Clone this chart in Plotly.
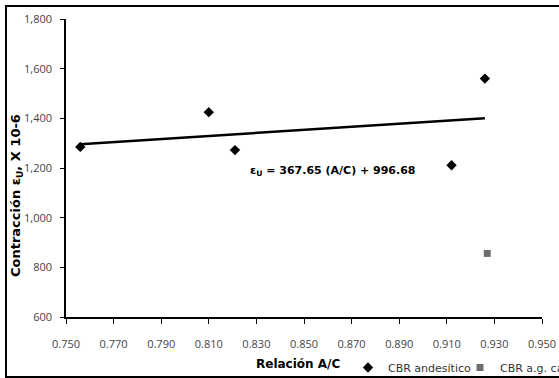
import numpy as np
import plotly.graph_objects as go

# Data
ac_andesitico = [0.756, 0.810, 0.821, 0.912, 0.926]
eps_andesitico = [1285, 1425, 1272, 1211, 1560]
ac_caliza = [0.927]
eps_caliza = [856]
x_ticks = [0.750, 0.770, 0.790, 0.810, 0.830, 0.850, 0.870, 0.890, 0.910, 0.930, 0.950]
y_ticks = [600, 800, 1000, 1200, 1400, 1600, 1800]
equation_label = "ε<sub>U</sub> = 367.65 (A/C) + 996.68"

# Linear trend of the andesitic series
slope, intercept = np.polyfit(ac_andesitico, eps_andesitico, 1)
trend_x = [min(ac_andesitico), max(ac_andesitico)]
trend_y = [slope * v + intercept for v in trend_x]

FONT = "Open Sans"
BOLD = "DejaVu Sans"

fig = go.Figure()
fig.add_trace(go.Scatter(x=trend_x, y=trend_y, mode="lines",
                         line=dict(color="black", width=2.5), showlegend=False,
                         hoverinfo="skip"))
fig.add_trace(go.Scatter(x=ac_andesitico, y=eps_andesitico, mode="markers",
                         name="CBR andesítico",
                         marker=dict(symbol="diamond", size=8, color="black")))
fig.add_trace(go.Scatter(x=ac_caliza, y=eps_caliza, mode="markers",
                         name="CBR a.g. caliza",
                         marker=dict(symbol="square", size=7, color="#6e6e6e")))

W, H = 559, 378
ml, mr, mt, mb = 66, 17, 19, 61
pw, ph = W - ml - mr, H - mt - mb

def px_x(px):
    return (px - ml) / pw

def px_y(py):
    return (H - mb - py) / ph

fig.update_layout(
    width=W, height=H,
    margin=dict(l=ml, r=mr, t=mt, b=mb, pad=0, autoexpand=False),
    paper_bgcolor="white", plot_bgcolor="white",
    font=dict(family=FONT, size=11, color="#444"),
    showlegend=True,
    legend=dict(orientation="h", xref="container", yref="container",
                x=348 / W, y=1 - 353 / H, xanchor="left", yanchor="top",
                font=dict(family="DejaVu Sans", size=11, color="#333"),
                itemwidth=30, entrywidth=67, tracegroupgap=0,
                bgcolor="rgba(0,0,0,0)"),
    xaxis=dict(range=[0.75, 0.95], tickvals=x_ticks, tickformat=".3f",
               automargin=False,
               showgrid=False, zeroline=False, showline=True, linecolor="black",
               linewidth=1.5, ticks="outside", ticklen=5, tickcolor="black",
               tickwidth=1.2, ticklabelstandoff=11,
               tickfont=dict(family=FONT, size=11, color="#444")),
    yaxis=dict(range=[600, 1800], tickvals=y_ticks, tickformat=",d",
               automargin=False,
               showgrid=False, zeroline=False, showline=True, linecolor="black",
               linewidth=1.5, ticks="outside", ticklen=4, tickcolor="black",
               tickwidth=1.2, ticklabelstandoff=6,
               tickfont=dict(family=FONT, size=11, color="#444")),
    shapes=[dict(type="rect", xref="paper", yref="paper",
                 x0=px_x(6), x1=px_x(566), y0=px_y(377), y1=px_y(6),
                 line=dict(color="black", width=2), fillcolor="rgba(0,0,0,0)",
                 layer="above")],
    annotations=[
        dict(text=equation_label, xref="paper", yref="paper", x=px_x(248), y=px_y(171),
             xanchor="left", yanchor="middle", showarrow=False,
             font=dict(family=BOLD, size=11, color="black", weight="bold")),
        dict(text="Contracción ε<sub>U</sub>, X 10-6", xref="paper", yref="paper",
             x=px_x(16), y=px_y(196), textangle=-90, xanchor="center", yanchor="middle",
             showarrow=False,
             font=dict(family=BOLD, size=13, color="black", weight="bold")),
        dict(text="Relación A/C", xref="paper", yref="paper", x=px_x(298), y=px_y(364),
             xanchor="center", yanchor="middle", showarrow=False,
             font=dict(family=BOLD, size=12, color="black", weight="bold")),
    ],
)

fig.write_html("out.html", config={"displayModeBar": False},
               post_script="document.body.style.margin='0px';document.body.style.overflow='hidden';")
